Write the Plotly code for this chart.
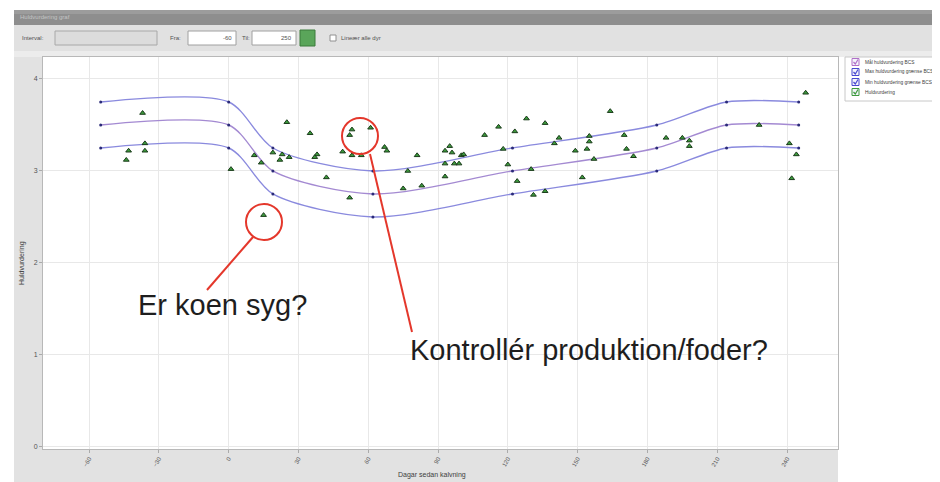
import plotly.graph_objects as go

# ---------------- data ----------------
knot_days = [-55, 0, 19, 62, 122, 184, 214, 245]
upper_bcs = [3.75, 3.75, 3.25, 3.0, 3.25, 3.5, 3.75, 3.75]
target_bcs = [3.5, 3.5, 3.0, 2.75, 3.0, 3.25, 3.5, 3.5]
lower_bcs = [3.25, 3.25, 2.75, 2.5, 2.75, 3.0, 3.25, 3.25]

obs_days = [-37, -43, -36, -36, -44, 1, 11, 14, 19, 23, 22, 26, 25, 35, 38, 37, 42, 52,
            49, 53, 52, 53, 57, 61, 15, 67, 68, 81, 77, 75, 83, 93, 95, 96, 100, 101,
            93, 97, 99, 93, 110, 116, 123, 128, 136, 118, 120, 130, 124, 131, 136, 140,
            142, 149, 154, 155, 155, 152, 157, 164, 170, 171, 174, 188, 195, 198, 198,
            228, 241, 244, 242, 248]
obs_bcs = [3.63, 3.22, 3.30, 3.22, 3.12, 3.02, 3.17, 3.09, 3.20, 3.18, 3.12, 3.15, 3.53,
           3.41, 3.18, 3.15, 2.93, 2.71, 3.21, 3.45, 3.39, 3.17, 3.17, 3.47, 2.52, 3.26,
           3.22, 3.17, 3.00, 2.81, 2.84, 3.22, 3.27, 3.20, 3.17, 3.18, 3.08, 3.08, 3.08,
           2.94, 3.39, 3.48, 3.43, 3.57, 3.52, 3.24, 3.07, 3.02, 2.89, 2.74, 2.78, 3.30,
           3.36, 3.22, 3.24, 3.38, 3.32, 2.93, 3.13, 3.65, 3.39, 3.24, 3.16, 3.36, 3.36,
           3.33, 3.27, 3.50, 3.30, 3.18, 2.92, 3.85]

x_ticks = [-60, -30, 0, 30, 60, 90, 120, 150, 180, 210, 240]
y_ticks = [0, 1, 2, 3, 4]

legend_names = ["Mål huldvurdering BCS", "Max huldvurdering grænse BCS",
                "Min huldvurdering grænse BCS", "Huldvurdering"]
legend_colors = ["#b070c8", "#4848d0", "#4848d0", "#3c9a3c"]

# ---------------- layout helpers (reference pixel -> paper) ----------------
OFF = 8                      # page body margin offset
W, H = 940 - OFF, 482 - OFF
L, R, T, B = 43, 838, 57, 449  # plot area in reference pixels


def px(x):
    return (x - L) / (R - L)


def py(y):
    return (B - y) / (B - T)


fig = go.Figure()

line_specs = [(upper_bcs, "#8a8ade"), (target_bcs, "#a48ad2"), (lower_bcs, "#8a8ade")]
for vals, col in line_specs:
    fig.add_trace(go.Scatter(
        x=knot_days, y=vals, mode="lines+markers",
        line=dict(color=col, width=1.4, shape="spline", smoothing=0.8),
        marker=dict(size=3, color="#2a2a78"),
        showlegend=False, hoverinfo="skip"))

fig.add_trace(go.Scatter(
    x=obs_days, y=obs_bcs, mode="markers",
    marker=dict(symbol="triangle-up", size=5, color="#3c9c3c",
                line=dict(color="#1a3a1a", width=1)),
    showlegend=False))

shapes = []


def rect(x0, y0, x1, y1, fill, line=None, lw=1, layer="below"):
    shapes.append(dict(type="rect", xref="paper", yref="paper",
                       x0=px(x0), x1=px(x1), y0=py(y1), y1=py(y0),
                       fillcolor=fill, line=dict(color=line or fill, width=lw if line else 0),
                       layer=layer))


# window chrome
rect(14, 10, 940, 25, "#8e8e8e")
rect(14, 10, 940, 14, "#9c9c9c")
rect(14, 25, 940, 51, "#e1e1e1")
rect(14, 51, 940, 57, "#ececec")
rect(14, 57, 43, 482, "#e2e2e2")
rect(14, 449, 838, 482, "#e2e2e2")
rect(55, 31, 157, 45, "#dcdcdc", "#a8a8a8")
rect(188, 31, 236, 45, "#ffffff", "#a0a0a0")
rect(252, 31, 296, 45, "#ffffff", "#a0a0a0")
rect(300, 30, 315, 46, "#5aa55a", "#3a7a3a")
rect(330, 35, 336, 41, "#ffffff", "#909090")
# legend box
rect(845, 57, 940, 101, "#ffffff", "#c8c8c8")
row_y = [62, 72, 82, 92]
for yy, col in zip(row_y, legend_colors):
    rect(852, yy - 3.5, 859, yy + 3.5, "#f4f4fb", col, 1, layer="above")
    shapes.append(dict(type="path", xref="paper", yref="paper",
                       path=f"M {px(853.5)} {py(yy)} L {px(855.3)} {py(yy + 2)} L {px(858)} {py(yy - 2.5)}",
                       line=dict(color=col, width=1.2), layer="above"))

# red annotation marks
red = "#e4372b"
shapes.append(dict(type="circle", xref="paper", yref="paper",
                   x0=px(246), x1=px(282), y0=py(240), y1=py(204),
                   line=dict(color=red, width=2), layer="above"))
shapes.append(dict(type="circle", xref="paper", yref="paper",
                   x0=px(342), x1=px(378), y0=py(154), y1=py(118),
                   line=dict(color=red, width=2), layer="above"))
shapes.append(dict(type="line", xref="paper", yref="paper",
                   x0=px(253), y0=py(237), x1=px(207), y1=py(290),
                   line=dict(color=red, width=2), layer="above"))
shapes.append(dict(type="line", xref="paper", yref="paper",
                   x0=px(370), y0=py(154), x1=px(412), y1=py(332),
                   line=dict(color=red, width=2), layer="above"))

annotations = []


def text(x, y, s, size=6, color="#505050", anchor="left", angle=0, family="Liberation Sans"):
    annotations.append(dict(xref="paper", yref="paper", x=px(x), y=py(y), text=s,
                            showarrow=False, xanchor=anchor, yanchor="middle",
                            textangle=angle, font=dict(size=size, color=color, family=family)))


text(18, 17, "Huldvurdering graf", 6, "#c4c4c4")
text(20, 38, "Interval:", 6)
text(168, 38, "Fra:", 6)
text(234, 38, "-60", 6, anchor="right")
text(240, 38, "Til:", 6)
text(294, 38, "250", 6, anchor="right")
text(339, 38, "Lineær alle dyr", 6)
for yy, name in zip(row_y, legend_names):
    text(863, yy, name, 4.8, "#404040")

text(22, 263, "Huldvurdering", 7, "#404040", anchor="center", angle=-90)
text(432, 475, "Dagar sedan kalvning", 7, "#404040", anchor="center")

text(136, 305, "Er koen syg?", 29, "#1e1e1e")
text(408, 350, "Kontrollér produktion/foder?", 29, "#1e1e1e")

fig.update_layout(
    width=W, height=H,
    margin=dict(l=L - OFF, r=940 - R, t=T - OFF, b=482 - B, pad=0),
    paper_bgcolor="#ffffff", plot_bgcolor="#ffffff",
    shapes=shapes, annotations=annotations,
    font=dict(family="Liberation Sans", size=7, color="#555555"),
    xaxis=dict(range=[-79.8, 261.9], tickvals=x_ticks, tickangle=-60,
               showgrid=True, gridcolor="#e8e8e8", gridwidth=1, zeroline=False,
               showline=True, linecolor="#b8b8b8", mirror=True,
               ticks="outside", ticklen=3, tickcolor="#aaaaaa",
               tickfont=dict(size=6, color="#555555")),
    yaxis=dict(range=[-0.022, 4.239], tickvals=y_ticks,
               showgrid=True, gridcolor="#e8e8e8", gridwidth=1, zeroline=False,
               showline=True, linecolor="#b8b8b8", mirror=True,
               ticks="outside", ticklen=3, tickcolor="#aaaaaa",
               tickfont=dict(size=7, color="#555555")),
    showlegend=False,
)

fig.write_html("out.html")
